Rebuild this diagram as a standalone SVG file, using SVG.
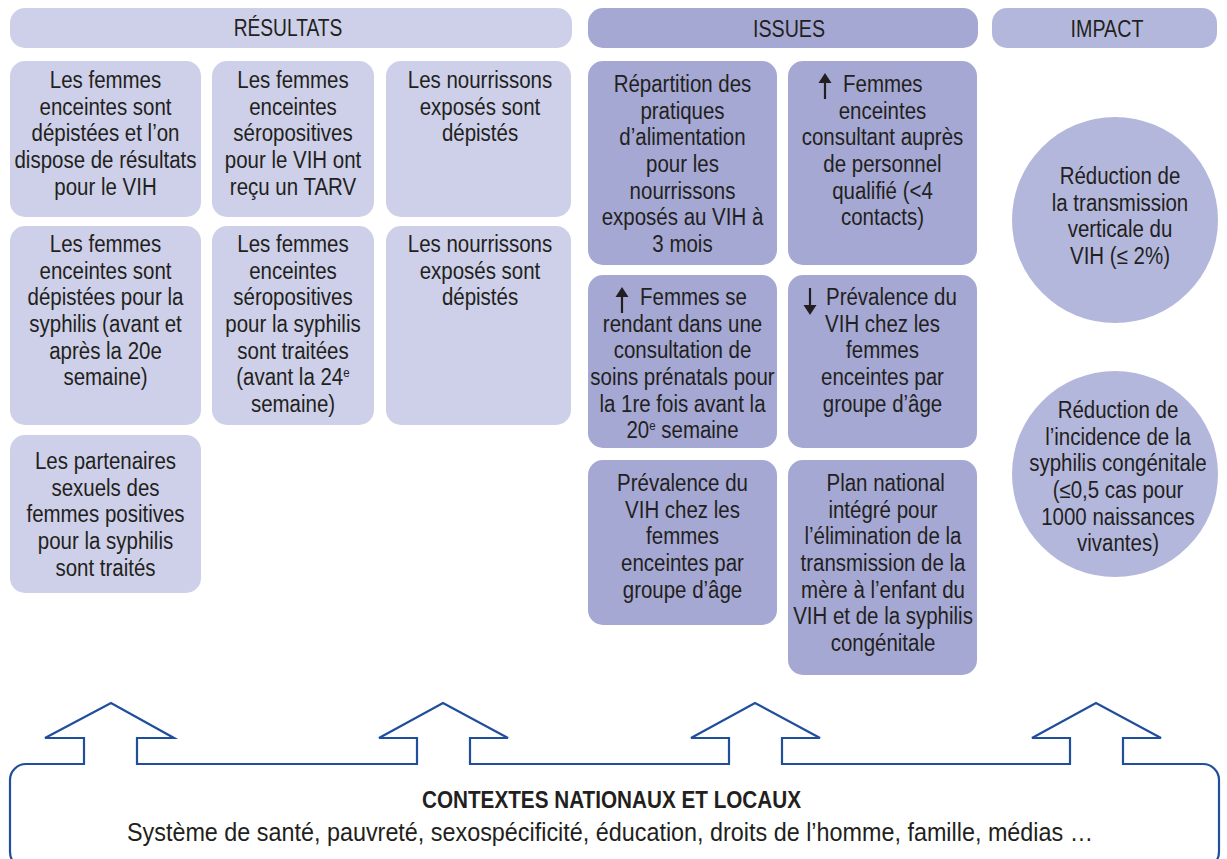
<svg xmlns="http://www.w3.org/2000/svg" width="1227" height="859" viewBox="0 0 1227 859">
<defs>
<style>
.t{font-family:"Liberation Sans",Arial,sans-serif;font-size:23px;fill:#231f20;text-anchor:middle}
.s{text-anchor:start}
.h{font-size:24px}
.lr{fill:#cdd0e8}
.di{fill:#a5a8d3}
.mi{fill:#b4b7dc}
.ar{stroke:#231f20;stroke-width:2.2;fill:none}
.ah{fill:#231f20}
.sup{font-size:13px}
.ctx{fill:none;stroke:#1f4e9b;stroke-width:2.2;stroke-linejoin:miter}
.b{font-weight:bold;font-size:24.5px}
.r{font-size:25px}
</style>
</defs>
<rect width="1227" height="859" fill="#ffffff"/>

<g id="hdr-resultats">
<rect class="lr" x="10" y="8" width="562" height="40" rx="15"/>
<text class="t h" transform="translate(288 0) scale(0.8 1)"><tspan x="0" y="36">RÉSULTATS</tspan></text>
</g>
<g id="hdr-issues">
<rect class="di" x="588" y="8" width="390" height="40" rx="15"/>
<text class="t h" transform="translate(789 0) scale(0.82 1)"><tspan x="0" y="37">ISSUES</tspan></text>
</g>
<g id="hdr-impact">
<rect class="mi" x="992" y="8" width="225" height="40" rx="15"/>
<text class="t h" transform="translate(1107 0) scale(0.82 1)"><tspan x="0" y="37">IMPACT</tspan></text>
</g>

<g id="r1">
<rect class="lr" x="10" y="61" width="191" height="156" rx="15"/>
<text class="t" transform="translate(105.5 0) scale(0.89 1)"><tspan x="0" y="88">Les femmes</tspan><tspan x="0" y="114.7">enceintes sont</tspan><tspan x="0" y="141.4">dépistées et l’on</tspan><tspan x="0" y="168.1">dispose de résultats</tspan><tspan x="0" y="194.8">pour le VIH</tspan></text>
</g>
<g id="r2">
<rect class="lr" x="212" y="61" width="162" height="156" rx="15"/>
<text class="t" transform="translate(293 0) scale(0.89 1)"><tspan x="0" y="88">Les femmes</tspan><tspan x="0" y="114.7">enceintes</tspan><tspan x="0" y="141.4">séropositives</tspan><tspan x="0" y="168.1">pour le VIH ont</tspan><tspan x="0" y="194.8">reçu un TARV</tspan></text>
</g>
<g id="r3">
<rect class="lr" x="386" y="61" width="185" height="156" rx="15"/>
<text class="t" transform="translate(480 0) scale(0.89 1)"><tspan x="0" y="88">Les nourrissons</tspan><tspan x="0" y="114.7">exposés sont</tspan><tspan x="0" y="141.4">dépistés</tspan></text>
</g>
<g id="r4">
<rect class="lr" x="10" y="226" width="191" height="199" rx="15"/>
<text class="t" transform="translate(105.5 0) scale(0.89 1)"><tspan x="0" y="252">Les femmes</tspan><tspan x="0" y="278.7">enceintes sont</tspan><tspan x="0" y="305.4">dépistées pour la</tspan><tspan x="0" y="332.1">syphilis (avant et</tspan><tspan x="0" y="358.8">après la 20e</tspan><tspan x="0" y="385.5">semaine)</tspan></text>
</g>
<g id="r5">
<rect class="lr" x="212" y="226" width="162" height="199" rx="15"/>
<text class="t" transform="translate(293 0) scale(0.89 1)"><tspan x="0" y="252">Les femmes</tspan><tspan x="0" y="278.7">enceintes</tspan><tspan x="0" y="305.4">séropositives</tspan><tspan x="0" y="332.1">pour la syphilis</tspan><tspan x="0" y="358.8">sont traitées</tspan><tspan x="0" y="385.5">(avant la 24<tspan class="sup" dy="-8">e</tspan></tspan><tspan x="0" y="412.2">semaine)</tspan></text>
</g>
<g id="r6">
<rect class="lr" x="386" y="226" width="185" height="199" rx="15"/>
<text class="t" transform="translate(480 0) scale(0.89 1)"><tspan x="0" y="252">Les nourrissons</tspan><tspan x="0" y="278.7">exposés sont</tspan><tspan x="0" y="305.4">dépistés</tspan></text>
</g>
<g id="r7">
<rect class="lr" x="10" y="435" width="191" height="158" rx="15"/>
<text class="t" transform="translate(105.5 0) scale(0.89 1)"><tspan x="0" y="469">Les partenaires</tspan><tspan x="0" y="495.7">sexuels des</tspan><tspan x="0" y="522.4">femmes positives</tspan><tspan x="0" y="549.1">pour la syphilis</tspan><tspan x="0" y="575.8">sont traités</tspan></text>
</g>

<g id="i1">
<rect class="di" x="588" y="61" width="189" height="204" rx="15"/>
<text class="t" transform="translate(682.5 0) scale(0.89 1)"><tspan x="0" y="92">Répartition des</tspan><tspan x="0" y="118.7">pratiques</tspan><tspan x="0" y="145.4">d’alimentation</tspan><tspan x="0" y="172.1">pour les</tspan><tspan x="0" y="198.8">nourrissons</tspan><tspan x="0" y="225.5">exposés au VIH à</tspan><tspan x="0" y="252.2">3 mois</tspan></text>
</g>
<g id="i2">
<rect class="di" x="788" y="61" width="189" height="204" rx="15"/>
<path class="ar" d="M825 80 V99"/>
<polygon class="ah" points="825,73 831.5,83 818.5,83"/>
<text class="t s" transform="translate(843 0) scale(0.89 1)"><tspan x="0" y="92">Femmes</tspan></text>
<text class="t" transform="translate(882.5 0) scale(0.89 1)"><tspan x="0" y="118.7">enceintes</tspan><tspan x="0" y="145.4">consultant auprès</tspan><tspan x="0" y="172.1">de personnel</tspan><tspan x="0" y="198.8">qualifié (&lt;4</tspan><tspan x="0" y="225.5">contacts)</tspan></text>
</g>
<g id="i3">
<rect class="di" x="588" y="275" width="189" height="173" rx="15"/>
<path class="ar" d="M622 294 V313"/>
<polygon class="ah" points="622,287 628.5,297 615.5,297"/>
<text class="t s" transform="translate(640 0) scale(0.89 1)"><tspan x="0" y="305">Femmes se</tspan></text>
<text class="t" transform="translate(682.5 0) scale(0.89 1)"><tspan x="0" y="331.7">rendant dans une</tspan><tspan x="0" y="358.4">consultation de</tspan><tspan x="0" y="385.1">soins prénatals pour</tspan><tspan x="0" y="411.8">la 1re fois avant la</tspan><tspan x="0" y="438.5">20<tspan class="sup" dy="-8">e</tspan><tspan dy="8"> semaine</tspan></tspan></text>
</g>
<g id="i4">
<rect class="di" x="788" y="275" width="189" height="173" rx="15"/>
<path class="ar" d="M810 288 V308"/>
<polygon class="ah" points="810,315 816.5,305 803.5,305"/>
<text class="t s" transform="translate(826 0) scale(0.89 1)"><tspan x="0" y="305">Prévalence du</tspan></text>
<text class="t" transform="translate(882.5 0) scale(0.89 1)"><tspan x="0" y="331.7">VIH chez les</tspan><tspan x="0" y="358.4">femmes</tspan><tspan x="0" y="385.1">enceintes par</tspan><tspan x="0" y="411.8">groupe d’âge</tspan></text>
</g>
<g id="i5">
<rect class="di" x="588" y="460" width="189" height="165" rx="15"/>
<text class="t" transform="translate(682.5 0) scale(0.89 1)"><tspan x="0" y="491">Prévalence du</tspan><tspan x="0" y="517.7">VIH chez les</tspan><tspan x="0" y="544.4">femmes</tspan><tspan x="0" y="571.1">enceintes par</tspan><tspan x="0" y="597.8">groupe d’âge</tspan></text>
</g>
<g id="i6">
<rect class="di" x="788" y="460" width="189" height="215" rx="15"/>
<text class="t" transform="translate(883 0) scale(0.89 1)"><tspan x="3" y="491">Plan national</tspan><tspan x="0" y="517.7">intégré pour</tspan><tspan x="0" y="544.4">l’élimination de la</tspan><tspan x="0" y="571.1">transmission de la</tspan><tspan x="0" y="597.8">mère à l’enfant du</tspan><tspan x="0" y="624.5">VIH et de la syphilis</tspan><tspan x="0" y="651.2">congénitale</tspan></text>
</g>

<g id="c1">
<circle class="mi" cx="1115" cy="220" r="103"/>
<text class="t" transform="translate(1120 0) scale(0.89 1)"><tspan x="0" y="184">Réduction de</tspan><tspan x="0" y="210.7">la transmission</tspan><tspan x="0" y="237.4">verticale du</tspan><tspan x="0" y="264.1">VIH (≤ 2%)</tspan></text>
</g>
<g id="c2">
<circle class="mi" cx="1115" cy="474" r="103"/>
<text class="t" transform="translate(1118 0) scale(0.89 1)"><tspan x="0" y="418">Réduction de</tspan><tspan x="0" y="444.7">l’incidence de la</tspan><tspan x="0" y="471.4">syphilis congénitale</tspan><tspan x="0" y="498.1">(≤0,5 cas pour</tspan><tspan x="0" y="524.8">1000 naissances</tspan><tspan x="0" y="551.5">vivantes)</tspan></text>
</g>

<g id="connectors">
<path class="ctx" d="M10,852 L10,780 A16,16 0 0 1 26,764 L84,764 L84,738 L45,738 L111,703 L174,738 L137,738 L137,764 L417,764 L417,738 L379,738 L443,703 L508,738 L470,738 L470,764 L729,764 L729,738 L691,738 L755,703 L820,738 L782,738 L782,764 L1070,764 L1070,738 L1032,738 L1096,703 L1161,738 L1123,738 L1123,764 L1203,764 A16,16 0 0 1 1219,780 L1219,852 A16,16 0 0 1 1203,868 L26,868 A16,16 0 0 1 10,852 Z"/>
</g>

<g id="contexts">
<text class="t b" transform="translate(611.5 0) scale(0.845 1)"><tspan x="0" y="808">CONTEXTES NATIONAUX ET LOCAUX</tspan></text>
<text class="t r" transform="translate(610 0) scale(0.935 1)"><tspan x="0" y="841">Système de santé, pauvreté, sexospécificité, éducation, droits de l’homme, famille, médias …</tspan></text>
</g>
</svg>
